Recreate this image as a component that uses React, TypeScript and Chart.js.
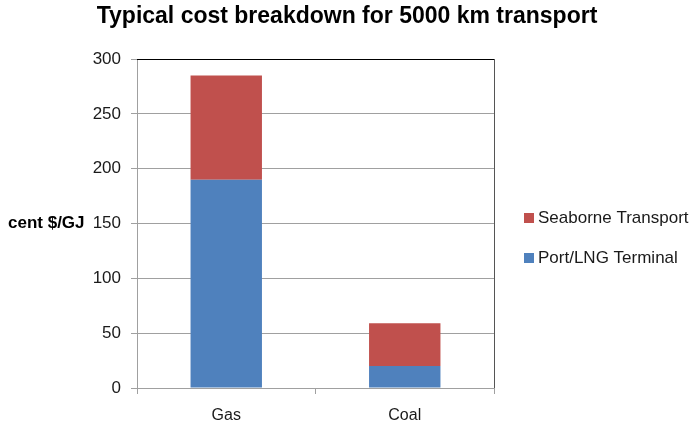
import React, { useEffect, useRef } from "react";
import { Chart, registerables } from "chart.js";

Chart.register(...registerables);

const categories = ["Gas", "Coal"];
const portLngTerminal = [190, 20];
const seaborneTransport = [95, 39];
const yTicks = [0, 50, 100, 150, 200, 250, 300];
const titleText = "Typical cost breakdown for 5000 km transport";
const yAxisTitle = "cent $/GJ";

const BLUE = "#4F81BD";
const RED = "#C0504D";
const FONT = "'Liberation Sans', Arial, sans-serif";

const extrasPlugin = {
  id: "extras",
  afterDraw(chart: any) {
    const { ctx, chartArea } = chart;
    ctx.save();
    // plot area top / right border
    ctx.strokeStyle = "#000000";
    ctx.lineWidth = 1;
    ctx.beginPath();
    ctx.moveTo(Math.round(chartArea.left), Math.round(chartArea.top) + 0.5);
    ctx.lineTo(Math.round(chartArea.right) + 1, Math.round(chartArea.top) + 0.5);
    ctx.stroke();
    ctx.strokeStyle = "#555555";
    ctx.beginPath();
    ctx.moveTo(Math.round(chartArea.right) + 0.5, Math.round(chartArea.top));
    ctx.lineTo(Math.round(chartArea.right) + 0.5, Math.round(chartArea.bottom));
    ctx.stroke();

    // title
    ctx.fillStyle = "#000000";
    ctx.font = `bold 23px ${FONT}`;
    ctx.textAlign = "center";
    ctx.textBaseline = "middle";
    ctx.fillText(titleText, 347, 17);

    // y axis title
    ctx.font = `bold 17px ${FONT}`;
    ctx.textAlign = "left";
    ctx.fillText(yAxisTitle, 8, 223);

    // legend (reverse order, like the reference)
    const ds = chart.data.datasets.slice().reverse();
    ctx.font = `17px ${FONT}`;
    ds.forEach((d: any, i: number) => {
      const cy = 218 + i * 40;
      ctx.fillStyle = d.backgroundColor;
      ctx.fillRect(524, cy - 5, 10, 10);
      ctx.fillStyle = "#1a1a1a";
      ctx.fillText(d.label, 538, cy);
    });
    ctx.restore();
  },
};

export default function App() {
  const ref = useRef<HTMLCanvasElement | null>(null);

  useEffect(() => {
    document.body.style.margin = "0";
    const canvas = ref.current!;
    const chart = new Chart(canvas, {
      type: "bar",
      data: {
        labels: categories,
        datasets: [
          {
            label: "Port/LNG Terminal",
            data: portLngTerminal,
            backgroundColor: BLUE,
            categoryPercentage: 1,
            barPercentage: 0.4,
          },
          {
            label: "Seaborne Transport",
            data: seaborneTransport,
            backgroundColor: RED,
            categoryPercentage: 1,
            barPercentage: 0.4,
          },
        ],
      },
      options: {
        responsive: false,
        animation: false,
        layout: { padding: { left: 0, right: 199, top: 59, bottom: 0 } },
        plugins: {
          legend: { display: false },
          tooltip: { enabled: false },
          title: { display: false },
        },
        scales: {
          x: {
            stacked: true,
            afterFit(scale: any) {
              scale.height = 39;
            },
            grid: {
              offset: true,
              drawOnChartArea: false,
              drawTicks: true,
              tickLength: 6,
              color: "#a0a0a0",
            },
            border: { display: true, color: "#a0a0a0" },
            ticks: {
              color: "#1a1a1a",
              padding: 12,
              font: { family: FONT, size: 16 },
            },
          },
          y: {
            stacked: true,
            min: 0,
            max: 300,
            afterFit(scale: any) {
              scale.width = 137;
            },
            afterBuildTicks(scale: any) {
              scale.ticks = yTicks.map((v) => ({ value: v }));
            },
            grid: {
              color: "#a0a0a0",
              tickLength: 6,
              drawTicks: true,
            },
            border: { display: true, color: "#a0a0a0" },
            ticks: {
              color: "#1a1a1a",
              padding: 10,
              font: { family: FONT, size: 17 },
            },
          },
        },
      },
      plugins: [extrasPlugin],
    });
    return () => chart.destroy();
  }, []);

  return <canvas ref={ref} width={693} height={427} style={{ display: "block" }} />;
}
